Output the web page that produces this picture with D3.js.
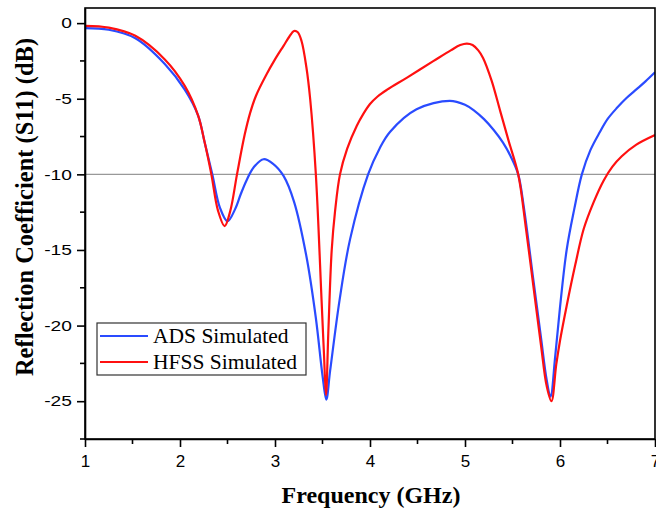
<!DOCTYPE html>
<html><head><meta charset="utf-8">
<script src="https://cdn.jsdelivr.net/npm/d3@7"></script>
<style>body{margin:0;background:#fff}svg{display:block}</style>
</head><body>
<svg id="c" width="656" height="512"></svg>
<script>
const adsFreq = [1.0,1.25,1.53,1.84,2.05,2.19,2.26,2.34,2.42,2.50,2.58,2.64,2.70,2.78,2.88,2.98,3.09,3.2,3.33,3.43,3.50,3.54,3.58,3.68,3.79,3.98,4.1,4.21,4.49,4.84,5.0,5.1,5.2,5.3,5.4,5.48,5.56,5.62,5.72,5.80,5.86,5.90,5.95,6.0,6.07,6.15,6.23,6.32,6.42,6.5,6.6,6.7,6.81,6.9,7.0];
const adsS11  = [-0.33,-0.44,-1.0,-2.7,-4.4,-6.1,-7.9,-10.0,-12.2,-13.1,-12.3,-11.3,-10.4,-9.5,-9.0,-9.3,-10.1,-11.8,-15.4,-19.5,-23.3,-24.9,-23.0,-18.3,-14.3,-10.0,-8.3,-7.2,-5.7,-5.14,-5.4,-5.8,-6.35,-7.05,-7.9,-8.8,-10.0,-12.2,-17.0,-20.8,-23.6,-24.7,-22.0,-18.8,-15.0,-12.3,-10.0,-8.4,-7.2,-6.35,-5.6,-4.95,-4.35,-3.85,-3.25];
const hfssFreq = [1.0,1.25,1.53,1.84,2.05,2.19,2.26,2.33,2.40,2.47,2.53,2.60,2.68,2.74,2.80,2.91,3.0,3.09,3.15,3.2,3.24,3.28,3.33,3.37,3.43,3.49,3.515,3.537,3.561,3.597,3.632,3.684,3.76,3.86,3.93,4.0,4.08,4.18,4.39,4.67,4.85,4.95,5.02,5.08,5.14,5.19,5.28,5.37,5.46,5.56,5.64,5.72,5.80,5.86,5.91,5.96,6.0,6.07,6.16,6.25,6.35,6.46,6.55,6.65,6.8,7.0];
const hfssS11  = [-0.18,-0.3,-0.84,-2.4,-4.15,-6.1,-7.9,-10.0,-12.4,-13.42,-12.4,-10.0,-7.4,-5.9,-4.8,-3.4,-2.4,-1.5,-0.9,-0.52,-0.6,-1.2,-2.9,-5.0,-10.0,-18.3,-21.8,-24.6,-20.5,-15.0,-12.45,-10.0,-8.3,-6.8,-6.0,-5.35,-4.85,-4.4,-3.6,-2.5,-1.8,-1.45,-1.35,-1.45,-1.8,-2.3,-3.8,-5.8,-7.8,-10.0,-13.5,-17.4,-21.3,-24.0,-25.0,-22.6,-21.0,-18.7,-16.0,-13.6,-11.9,-10.4,-9.5,-8.8,-8.05,-7.4];
const xTicks = [1,2,3,4,5,6,7];
const yTicks = [0,-5,-10,-15,-20,-25];
const seriesNames = ["ADS Simulated","HFSS Simulated"];
const seriesColors = ["#2a4bff","#ff1010"];

const svg = d3.select("#c");
const L=85, R=655, T=8, B=439;
const x = d3.scaleLinear().domain([1,7]).range([L,R]);
const y = d3.scaleLinear().domain([-27.5,1]).range([B,T]);

// reference line at -10
svg.append("line").attr("x1",L).attr("x2",R).attr("y1",y(-10)).attr("y2",y(-10))
  .attr("stroke","#999").attr("stroke-width",1.2);

const line = d3.line().x(d=>x(d[0])).y(d=>y(d[1])).curve(d3.curveCatmullRom.alpha(0.5));
const ads = adsFreq.map((f,i)=>[f,adsS11[i]]);
const hfss = hfssFreq.map((f,i)=>[f,hfssS11[i]]);
svg.append("clipPath").attr("id","cp").append("rect").attr("x",L).attr("y",T).attr("width",R-L).attr("height",B-T);
const g = svg.append("g").attr("clip-path","url(#cp)");
g.append("path").datum(ads).attr("d",line).attr("fill","none").attr("stroke",seriesColors[0]).attr("stroke-width",2.2);
g.append("path").datum(hfss).attr("d",line).attr("fill","none").attr("stroke",seriesColors[1]).attr("stroke-width",2.2);

// frame
svg.append("rect").attr("x",L).attr("y",T).attr("width",R-L).attr("height",B-T)
  .attr("fill","none").attr("stroke","#000").attr("stroke-width",1.6);

// axes
const xAxis = d3.axisBottom(x).tickValues(xTicks).tickFormat(d3.format("d")).tickSize(8).tickSizeOuter(0);
const gx = svg.append("g").attr("transform",`translate(0,${B})`).call(xAxis);
const yAxis = d3.axisLeft(y).tickValues(yTicks).tickFormat(d=>String(d).replace("\u2212","-")).tickSize(8).tickSizeOuter(0);
const gy = svg.append("g").attr("transform",`translate(${L},0)`).call(yAxis);
[gx,gy].forEach(g=>{
  g.select(".domain").attr("stroke","#000").attr("stroke-width",1.6);
  g.selectAll(".tick line").attr("stroke","#000").attr("stroke-width",1.6);
  g.selectAll(".tick text").attr("font-family","Liberation Sans, Arial, sans-serif").attr("fill","#000");
});
gx.selectAll(".tick text").attr("font-size",17).attr("y",16);
gy.selectAll(".tick text").attr("font-size",15).attr("x",-10.2).attr("transform","scale(1.28,1)");
// minor ticks
const xMinor = d3.range(1.5,7,1);
svg.append("g").selectAll("line").data(xMinor).join("line")
  .attr("x1",d=>x(d)).attr("x2",d=>x(d)).attr("y1",B).attr("y2",B+5).attr("stroke","#000").attr("stroke-width",1.6);
const yMinor = [-2.5,-7.5,-12.5,-17.5,-22.5,-27.5];
svg.append("g").selectAll("line").data(yMinor).join("line")
  .attr("x1",L-5).attr("x2",L).attr("y1",d=>y(d)).attr("y2",d=>y(d)).attr("stroke","#000").attr("stroke-width",1.6);

// axis titles
svg.append("text").attr("x",371).attr("y",503).attr("text-anchor","middle")
  .attr("font-family","Liberation Serif, Times New Roman, serif").attr("font-weight","bold").attr("font-size",24)
  .text("Frequency (GHz)");
svg.append("text").attr("transform","translate(33,207) rotate(-90)").attr("text-anchor","middle")
  .attr("font-family","Liberation Serif, Times New Roman, serif").attr("font-weight","bold").attr("font-size",24.5)
  .text("Reflection Coefficient (S11) (dB)");

// legend
const lg = svg.append("g");
lg.append("rect").attr("x",97).attr("y",323).attr("width",209).attr("height",52)
  .attr("fill","#fff").attr("stroke","#333").attr("stroke-width",1.2);
seriesNames.forEach((n,i)=>{
  const yy = 336 + i*26;
  lg.append("line").attr("x1",100).attr("x2",148).attr("y1",yy).attr("y2",yy).attr("stroke",seriesColors[i]).attr("stroke-width",2.2);
  lg.append("text").attr("x",153).attr("y",yy+6.5).attr("font-family","Liberation Serif, Times New Roman, serif")
    .attr("font-size",21.5).attr("fill","#000").text(n);
});
</script>
</body></html>
